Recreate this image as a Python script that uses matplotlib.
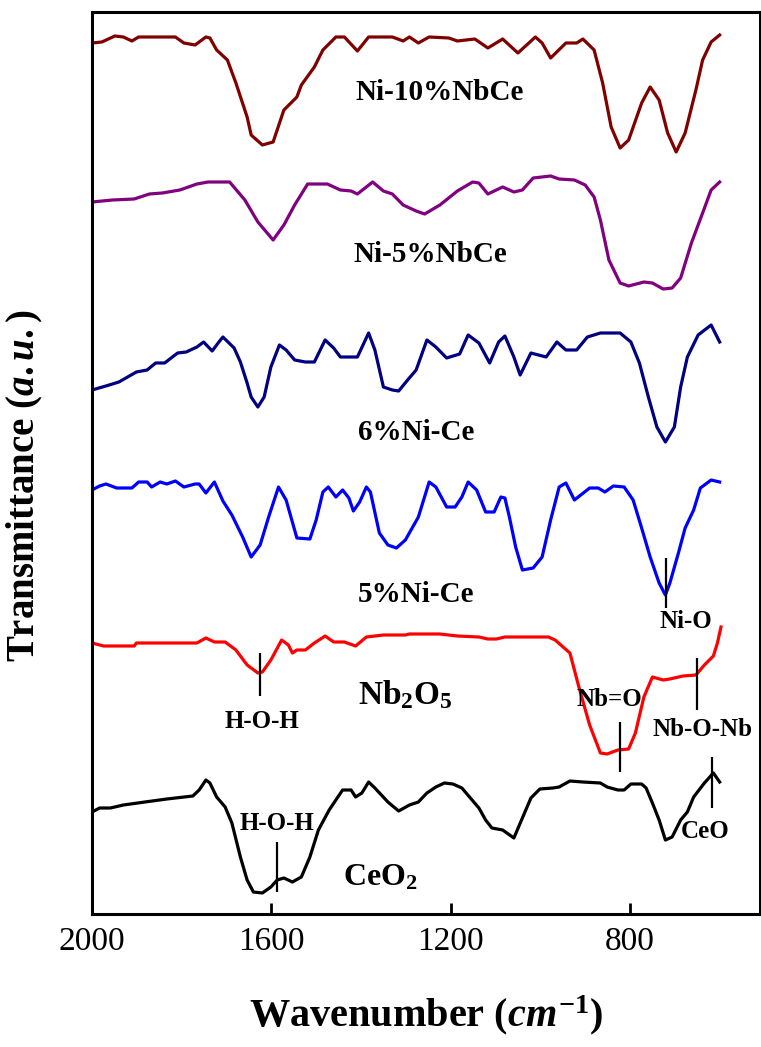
import numpy as np
import matplotlib.pyplot as plt

#######
# FTIR spectra, stacked (transmittance in a.u., offsets already included)
#######
plt.rcParams['font.family'] = ['Liberation Serif', 'DejaVu Serif']
plt.rcParams['mathtext.fontset'] = 'custom'
plt.rcParams['mathtext.rm'] = 'Liberation Serif:bold'
plt.rcParams['mathtext.it'] = 'Liberation Serif:italic:bold'
plt.rcParams['mathtext.bf'] = 'Liberation Serif:bold'

# Ni-10%NbCe
wn_ni10 = [2000, 1978, 1949, 1930, 1911, 1896, 1814, 1795, 1770, 1746, 1737, 1722, 1698, 1679,
           1654, 1645, 1620, 1596, 1572, 1543, 1533, 1504, 1485, 1456, 1437, 1408, 1383, 1330,
           1306, 1292, 1272, 1248, 1204, 1185, 1146, 1117, 1084, 1050, 1011, 996, 977, 943, 919,
           905, 880, 861, 842, 822, 803, 774, 755, 735, 716, 697, 677, 653, 638, 619, 600]
t_ni10 = [871, 872, 878, 877, 873, 877, 877, 871, 869, 877, 876, 864, 854, 831,
          797, 779, 769, 772, 804, 817, 829, 847, 864, 877, 877, 863, 877, 877,
          873, 877, 871, 877, 876, 873, 875, 866, 875, 861, 877, 871, 856, 871, 871,
          875, 864, 831, 787, 766, 774, 811, 827, 814, 781, 762, 781, 824, 854, 872, 879]

# Ni-5%NbCe
wn_ni5 = [2000, 1954, 1906, 1872, 1843, 1804, 1766, 1741, 1693, 1659, 1630, 1596, 1572, 1548,
          1519, 1475, 1446, 1422, 1408, 1374, 1350, 1330, 1306, 1277, 1258, 1224, 1185, 1151,
          1137, 1117, 1084, 1059, 1040, 1016, 977, 958, 924, 900, 880, 866, 847, 822, 803, 769,
          750, 726, 706, 687, 663, 638, 619, 600]
t_ni5 = [712, 714, 715, 720, 721, 724, 730, 732, 732, 714, 692, 674, 689, 709,
         730, 730, 724, 723, 720, 732, 723, 720, 709, 703, 700, 709, 723, 732,
         731, 720, 727, 722, 724, 736, 738, 735, 734, 729, 717, 694, 654, 631, 628, 632,
         631, 625, 626, 636, 671, 701, 724, 732]

# 6%Ni-Ce
wn_6ni = [2000, 1969, 1940, 1901, 1877, 1858, 1838, 1809, 1790, 1766, 1751, 1732, 1717, 1708,
          1683, 1669, 1654, 1645, 1630, 1616, 1601, 1582, 1567, 1548, 1524, 1504, 1480, 1461,
          1446, 1408, 1383, 1369, 1350, 1330, 1316, 1296, 1277, 1253, 1233, 1209, 1180, 1161,
          1137, 1113, 1093, 1079, 1059, 1045, 1021, 987, 963, 943, 919, 895, 866, 822, 798,
          779, 759, 740, 721, 701, 687, 672, 648, 619, 600]
t_6ni = [524, 528, 532, 542, 544, 551, 551, 561, 562, 567, 572, 563, 572, 577,
         566, 552, 531, 517, 507, 517, 547, 569, 564, 554, 552, 552, 574, 566,
         557, 557, 581, 564, 527, 524, 523, 534, 544, 574, 567, 556, 560, 579,
         571, 551, 572, 578, 557, 539, 561, 557, 572, 564, 564, 577, 581, 581, 572,
         551, 517, 487, 472, 487, 527, 557, 579, 589, 572]

# 5%Ni-Ce
wn_5ni = [2000, 1983, 1969, 1945, 1911, 1896, 1877, 1867, 1848, 1833, 1814, 1795, 1770, 1761,
          1746, 1727, 1708, 1688, 1664, 1645, 1625, 1606, 1584, 1567, 1543, 1514, 1500, 1485,
          1473, 1456, 1441, 1427, 1417, 1403, 1388, 1379, 1359, 1340, 1321, 1301, 1272, 1248,
          1233, 1209, 1190, 1175, 1161, 1142, 1122, 1103, 1088, 1079, 1069, 1055, 1040, 1016,
          996, 977, 958, 943, 924, 890, 871, 856, 837, 813, 793, 774, 755, 735, 721, 711, 692,
          677, 658, 643, 619, 600]
t_5ni = [424, 428, 430, 426, 426, 432, 432, 427, 432, 430, 433, 427, 430, 430,
         421, 432, 413, 399, 377, 357, 369, 397, 427, 414, 376, 375, 394, 422,
         427, 417, 424, 416, 403, 412, 427, 422, 381, 369, 366, 374, 397, 432,
         427, 407, 407, 417, 432, 424, 402, 402, 417, 416, 397, 367, 344, 346,
         357, 394, 427, 431, 414, 426, 426, 422, 428, 427, 414, 386, 357, 331, 319, 331, 361,
         386, 404, 426, 434, 432]

# Nb2O5
wn_nb = [2000, 1974, 1906, 1901, 1766, 1746, 1727, 1703, 1679, 1654, 1630, 1620, 1601, 1577,
         1562, 1553, 1543, 1524, 1504, 1480, 1461, 1437, 1412, 1388, 1350, 1301, 1292, 1224,
         1185, 1137, 1117, 1098, 1079, 1021, 982, 967, 934, 914, 890, 866, 851, 827, 803, 788,
         769, 750, 726, 711, 682, 653, 634, 614, 605, 597]
t_nb = [271, 268, 268, 271, 271, 276, 272, 272, 264, 249, 241, 242, 254, 274,
        269, 261, 264, 264, 271, 278, 272, 272, 268, 277, 279, 279, 280, 280,
        278, 277, 275, 275, 277, 277, 277, 274, 261, 227, 189, 161, 160, 164, 165, 181,
        217, 237, 234, 235, 238, 239, 249, 258, 271, 287]

# CeO2
wn_ce = [2000, 1983, 1959, 1930, 1882, 1833, 1775, 1761, 1746, 1737, 1722, 1703, 1688, 1669,
         1654, 1640, 1620, 1601, 1587, 1572, 1553, 1533, 1514, 1495, 1471, 1441, 1422, 1412,
         1398, 1383, 1369, 1340, 1316, 1292, 1272, 1253, 1233, 1214, 1195, 1175, 1156, 1137,
         1122, 1108, 1084, 1059, 1040, 1021, 1001, 972, 958, 934, 905, 866, 851, 827, 813,
         798, 774, 764, 750, 735, 721, 706, 687, 672, 658, 634, 614, 600]
t_ce = [102, 106, 106, 109, 112, 115, 118, 124, 134, 131, 117, 107, 91, 57,
        34, 22, 21, 27, 34, 36, 32, 37, 57, 84, 104, 124, 124, 117,
        121, 132, 126, 112, 103, 109, 112, 121, 127, 131, 130, 126, 116, 106,
        94, 86, 84, 76, 96, 116, 125, 126, 127, 133, 132, 131, 127, 124, 124,
        130, 130, 126, 111, 94, 74, 77, 94, 102, 117, 131, 141, 132]

series = [
    (wn_ni10, t_ni10, '#800000'),
    (wn_ni5, t_ni5, '#800080'),
    (wn_6ni, t_6ni, '#000080'),
    (wn_5ni, t_5ni, '#0000FF'),
    (wn_nb, t_nb, '#FF0000'),
    (wn_ce, t_ce, '#000000'),
]

# band markers: wavenumber, ymin, ymax
band_wn = [719, 1625, 822, 651, 1587, 616]
band_lo = [306, 218, 142, 204, 22, 106]
band_hi = [356, 261, 192, 256, 72, 157]

#######
# PLOT
#######
fig = plt.figure(figsize=(7.61, 10.47), dpi=100)
ax = fig.add_axes([92 / 761, 1 - 914 / 1047, 668 / 761, 902 / 1047])

for wn, t, c in series:
    ax.plot(wn, t, color=c, linewidth=2.3)

ax.vlines(band_wn, band_lo, band_hi, color='black', linewidth=1.6)

bold = dict(fontweight='bold', ha='center', va='center')
ax.text(1224, 822, 'Ni-10%NbCe', fontsize=21, **bold)
ax.text(1245, 659, 'Ni-5%NbCe', fontsize=21, **bold)
ax.text(1277, 482, '6%Ni-Ce', fontsize=21, **bold)
ax.text(1277, 319, '5%Ni-Ce', fontsize=21, **bold)
ax.text(1301, 219, r'Nb$_{2}$O$_{5}$', fontsize=24, **bold)
ax.text(1357, 36, r'CeO$_{2}$', fontsize=23, **bold)

ax.text(675, 292, 'Ni-O', fontsize=18, **bold)
ax.text(1620, 192, 'H-O-H', fontsize=18, **bold)
ax.text(846, 214, 'Nb=O', fontsize=18, **bold)
ax.text(639, 184, 'Nb-O-Nb', fontsize=18, **bold)
ax.text(1587, 91, 'H-O-H', fontsize=18, **bold)
ax.text(632, 82, 'CeO', fontsize=18, **bold)

ax.set_xlim(2000, 510)
ax.set_ylim(0, 902)
ax.set_xticks([2000, 1600, 1200, 800])
ax.set_yticks([])
ax.tick_params(axis='x', direction='in', length=8, width=2, labelsize=24, pad=9)
for sp in ax.spines.values():
    sp.set_linewidth(2.2)

ax.set_xlabel(r'Wavenumber ($cm^{-1}$)', fontsize=29, fontweight='bold', labelpad=26)
ax.set_ylabel(r'Transmittance ($a.u.$)', fontsize=28, fontweight='bold')
ax.yaxis.set_label_coords(-0.07, 0.4745)

fig.savefig('out.png', dpi=100)
